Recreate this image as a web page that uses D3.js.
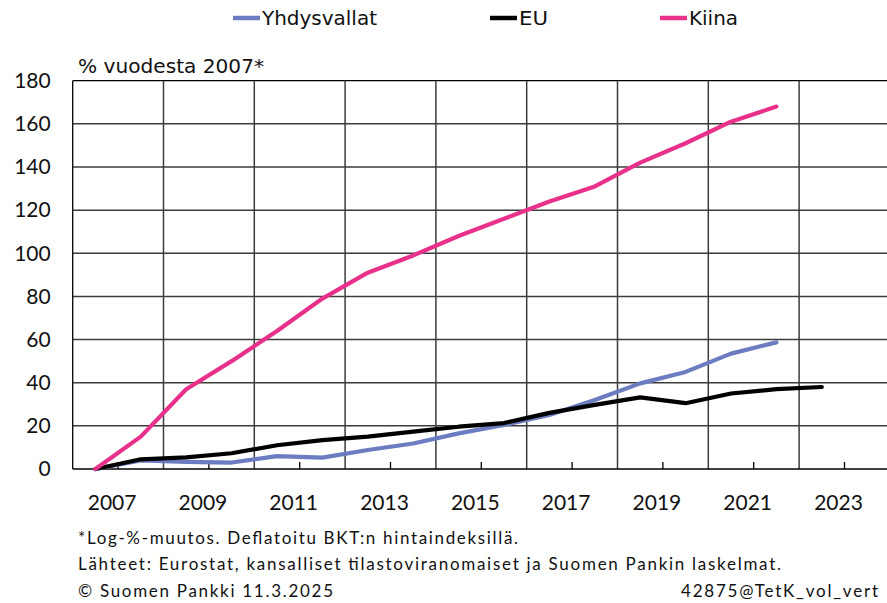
<!DOCTYPE html>
<html>
<head>
<meta charset="utf-8">
<script src="https://cdn.jsdelivr.net/npm/d3@7"></script>
<style>
  body { margin: 0; background: #fff; }
  svg { display: block; }
</style>
</head>
<body>
<div id="chart"></div>
<script>

// Data
var years = d3.range(2007, 2025);
var tickYears = [2007, 2009, 2011, 2013, 2015, 2017, 2019, 2021, 2023];
var yTicks = [0, 20, 40, 60, 80, 100, 120, 140, 160, 180];

var usaYears = d3.range(2007, 2023);
var usaValues = [0, 4, 3.3, 3, 6, 5.3, 8.8, 11.8, 16.5, 20.4, 25, 32, 39.7, 45, 53.5, 58.7];

var euYears = d3.range(2007, 2024);
var euValues = [0, 4.5, 5.4, 7.3, 11, 13.4, 15, 17.3, 19.6, 21.3, 26, 29.7, 33.2, 30.5, 35, 37, 38];

var chinaYears = d3.range(2007, 2023);
var chinaValues = [0, 15, 37, 50, 64, 79, 91, 99, 108, 116, 124, 131, 142, 151, 161, 168];

var seriesNames = ['Yhdysvallat', 'EU', 'Kiina'];
var seriesColors = ['#6b7dc0', '#000000', '#e8318a'];

/*
 * LAYOUT
 * =============================== */

var width = 887, height = 603;
var plotLeft = 72.7, plotTop = 80.7, plotBottom = 469;
var yearWidth = 45.4;

var svg = d3.select('#chart').append('svg')
  .attr('width', width)
  .attr('height', height);

svg.append('rect').attr('width', width).attr('height', height).attr('fill', '#fff');

var x = d3.scaleBand()
  .domain(years)
  .range([plotLeft, plotLeft + years.length*yearWidth]);

var y = d3.scaleLinear()
  .domain([0, 180])
  .range([plotBottom, plotTop]);

var mid = function(yr) { return x(yr) + x.bandwidth()/2; };

/*
 * GRID + AXES
 * =============================== */

var plotRight = x.range()[1];

// horizontal gridlines
svg.append('g').selectAll('line')
  .data(yTicks.filter(function(d) { return d > 0; }))
  .enter().append('line')
  .attr('x1', plotLeft).attr('x2', plotRight)
  .attr('y1', function(d) { return y(d); })
  .attr('y2', function(d) { return y(d); })
  .attr('stroke', function(d) { return d == 180 ? '#000' : '#3c3c3c'; })
  .attr('stroke-width', function(d) { return d == 180 ? 1.2 : 1.5; });

// vertical gridlines every two years
svg.append('g').selectAll('line')
  .data(years.filter(function(d) { return (d - 2007) % 2 == 0 && d > 2007; }))
  .enter().append('line')
  .attr('x1', function(d) { return x(d); })
  .attr('x2', function(d) { return x(d); })
  .attr('y1', plotTop).attr('y2', plotBottom)
  .attr('stroke', '#3c3c3c')
  .attr('stroke-width', 1.5);

// minor ticks on the category axis
svg.append('g').selectAll('line')
  .data(years.filter(function(d) { return (d - 2007) % 2 == 1; }))
  .enter().append('line')
  .attr('x1', function(d) { return x(d); })
  .attr('x2', function(d) { return x(d); })
  .attr('y1', plotBottom - 7).attr('y2', plotBottom)
  .attr('stroke', '#000')
  .attr('stroke-width', 1.3);

// y axis + x axis lines
svg.append('line')
  .attr('x1', plotLeft).attr('x2', plotLeft)
  .attr('y1', plotTop).attr('y2', plotBottom)
  .attr('stroke', '#000').attr('stroke-width', 1.3);
svg.append('line')
  .attr('x1', plotLeft).attr('x2', plotRight)
  .attr('y1', plotBottom).attr('y2', plotBottom)
  .attr('stroke', '#000').attr('stroke-width', 1.5);

var yAxis = d3.axisLeft(y).tickValues(yTicks).tickSize(0).tickPadding(22);
svg.append('g')
  .attr('transform', 'translate(' + plotLeft + ',0)')
  .call(yAxis)
  .call(function(g) { g.select('.domain').remove(); })
  .selectAll('text')
  .attr('font-family', 'Lato, sans-serif')
  .attr('font-size', 21)
  .attr('fill', '#111');

svg.append('g').selectAll('text')
  .data(tickYears)
  .enter().append('text')
  .attr('x', function(d) { return x(d) + x.bandwidth() - 6; })
  .attr('y', 510)
  .attr('text-anchor', 'middle')
  .attr('font-family', 'Lato, sans-serif')
  .attr('font-size', 21)
  .attr('fill', '#111')
  .text(function(d) { return d; });

svg.append('text')
  .attr('x', 78).attr('y', 73)
  .attr('font-family', '"Liberation Sans Narrow", "DejaVu Sans Condensed", sans-serif')
  .attr('font-size', 20)
  .attr('textLength', 186)
  .attr('lengthAdjust', 'spacingAndGlyphs')
  .attr('fill', '#111')
  .text('% vuodesta 2007*');

/*
 * LINES
 * =============================== */

var seriesData = [
  usaYears.map(function(yr, i) { return [yr, usaValues[i]]; }),
  euYears.map(function(yr, i) { return [yr, euValues[i]]; }),
  chinaYears.map(function(yr, i) { return [yr, chinaValues[i]]; })
];

var line = d3.line()
  .x(function(d) { return mid(d[0]); })
  .y(function(d) { return y(d[1]); });

// draw in order: blue, black, pink on top
svg.append('g').selectAll('path')
  .data(seriesData)
  .enter().append('path')
  .attr('d', line)
  .attr('fill', 'none')
  .attr('stroke', function(d, i) { return seriesColors[i]; })
  .attr('stroke-width', 4.2)
  .attr('stroke-linejoin', 'round')
  .attr('stroke-linecap', 'round');

/*
 * LEGEND
 * =============================== */

var legendX = [233, 490, 660];
var legendW = [115, 29, 49];
var legend = svg.append('g').selectAll('g')
  .data(seriesNames)
  .enter().append('g')
  .attr('transform', function(d, i) { return 'translate(' + legendX[i] + ',18)'; });

legend.append('line')
  .attr('x1', 0).attr('x2', 27)
  .attr('stroke', function(d, i) { return seriesColors[i]; })
  .attr('stroke-width', 4.5);

legend.append('text')
  .attr('x', 29).attr('y', 7)
  .attr('font-family', '"Liberation Sans Narrow", "DejaVu Sans Condensed", sans-serif')
  .attr('font-size', 20)
  .attr('textLength', function(d, i) { return legendW[i]; })
  .attr('lengthAdjust', 'spacingAndGlyphs')
  .attr('fill', '#111')
  .text(function(d) { return d; });

/*
 * FOOTER
 * =============================== */

var notes = [
  { text: '*Log-%-muutos. Deflatoitu BKT:n hintaindeksillä.', x: 78, y: 544, w: 440, anchor: 'start' },
  { text: 'Lähteet: Eurostat, kansalliset tilastoviranomaiset ja Suomen Pankin laskelmat.', x: 78, y: 570, w: 703, anchor: 'start' },
  { text: '© Suomen Pankki 11.3.2025', x: 78, y: 597, w: 255, anchor: 'start' },
  { text: '42875@TetK_vol_vert', x: 878, y: 597, w: 197, anchor: 'end' }
];

svg.append('g').selectAll('text')
  .data(notes)
  .enter().append('text')
  .attr('x', function(d) { return d.x; })
  .attr('y', function(d) { return d.y; })
  .attr('text-anchor', function(d) { return d.anchor; })
  .attr('font-family', 'Lato, sans-serif')
  .attr('font-size', 17)
  .attr('textLength', function(d) { return d.w; })
  .attr('lengthAdjust', 'spacing')
  .attr('fill', '#111')
  .text(function(d) { return d.text; });

</script>
</body>
</html>
